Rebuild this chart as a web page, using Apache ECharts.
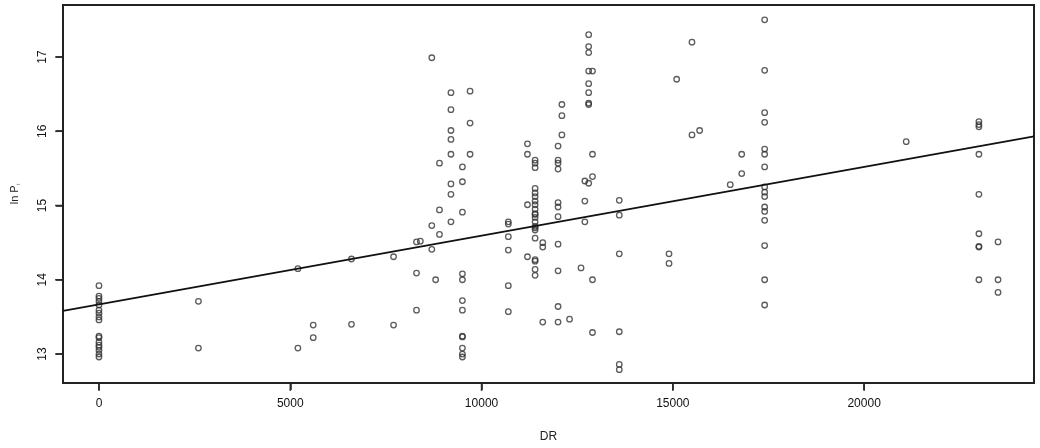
<!DOCTYPE html>
<html>
<head>
<meta charset="utf-8">
<script src="https://cdn.jsdelivr.net/npm/echarts@6/dist/echarts.min.js"></script>
<style>
html,body{margin:0;padding:0;background:#fff;}
#c{width:1040px;height:448px;}
</style>
</head>
<body>
<div id="c"></div>
<script>
// Observed points: DR values (x) and ln P values (y), grouped by column
const drValues = [
  0,0,0,0,0,0,0,0,0,0,0,0,0,0,0,0,0,
  2600,2600,
  5200,5200,
  5600,5600,
  6600,6600,
  7700,7700,
  8300,8300,8300,8400,
  8700,8700,8700,8800,
  8900,8900,8900,
  9200,9200,9200,9200,9200,9200,9200,9200,
  9500,9500,9500,9500,9500,9500,9500,9500,9500,9500,9500,9500,
  9700,9700,9700,
  10700,10700,10700,10700,10700,10700,
  11200,11200,11200,11200,
  11400,11400,11400,11400,11400,11400,11400,11400,11400,11400,11400,11400,11400,11400,11400,11400,11400,11400,11400,11400,11400,
  11600,11600,11600,
  12000,12000,12000,12000,12000,12000,12000,12000,12000,12000,12000,
  12100,12100,12100,
  12300,12600,
  12700,12700,12700,
  12800,12800,12800,12800,12800,12800,12800,12800,12800,
  12900,12900,12900,12900,12900,
  13600,13600,13600,13600,13600,13600,
  14900,14900,
  15100,
  15500,15500,
  15700,
  16500,
  16800,16800,
  17400,17400,17400,17400,17400,17400,17400,17400,17400,17400,17400,17400,17400,17400,17400,17400,
  21100,
  23000,23000,23000,23000,23000,23000,23000,23000,23000,
  23500,23500,23500
];
const lnPValues = [
  13.92,13.78,13.75,13.71,13.66,13.59,13.55,13.50,13.46,13.24,13.22,13.16,13.12,13.09,13.05,13.00,12.96,
  13.71,13.08,
  14.15,13.08,
  13.39,13.22,
  14.28,13.40,
  14.31,13.39,
  14.51,14.09,13.59,14.52,
  16.99,14.73,14.41,14.00,
  15.57,14.94,14.61,
  16.52,16.29,16.01,15.89,15.69,15.29,15.15,14.78,
  15.52,15.32,14.91,14.08,14.00,13.72,13.59,13.24,13.23,13.08,13.00,12.96,
  16.54,16.11,15.69,
  14.78,14.75,14.58,14.40,13.92,13.57,
  15.83,15.69,15.01,14.31,
  15.61,15.57,15.51,15.23,15.17,15.12,15.06,15.01,14.95,14.89,14.88,14.84,14.78,14.72,14.70,14.67,14.56,14.27,14.25,14.14,14.06,
  14.50,14.44,13.43,
  15.80,15.61,15.57,15.49,15.04,14.98,14.85,14.48,14.12,13.64,13.43,
  16.36,16.21,15.95,
  13.47,14.16,
  15.33,15.06,14.78,
  17.30,17.14,17.06,16.81,16.64,16.52,16.38,16.36,15.30,
  16.81,15.69,15.39,14.00,13.29,
  15.07,14.87,14.35,13.30,12.86,12.79,
  14.35,14.22,
  16.70,
  17.20,15.95,
  16.01,
  15.28,
  15.69,15.43,
  17.50,16.82,16.25,16.12,15.76,15.69,15.52,15.25,15.18,15.12,14.98,14.92,14.80,14.46,14.00,13.66,
  15.86,
  16.13,16.09,16.06,15.69,15.15,14.62,14.45,14.44,14.00,
  14.51,14.00,13.83
];
// Fitted regression line endpoints
const fitX = [-940, 24440];
const fitY = [13.58, 15.93];
// Tick labels
const xTicks = [0, 5000, 10000, 15000, 20000];
const yTicks = [13, 14, 15, 16, 17];
const xMin = -940, xMax = 24440, yMin = 12.61, yMax = 17.70;

const points = drValues.map((x, i) => [x, lnPValues[i]]);
const fitLine = fitX.map((x, i) => [x, fitY[i]]);

const chart = echarts.init(document.getElementById('c'));
const font = 'Liberation Sans, Arial, sans-serif';
chart.setOption({
  animation: false,
  backgroundColor: '#ffffff',
  grid: {
    left: 63, right: 6, top: 5, bottom: 65,
    show: true, borderColor: '#222', borderWidth: 2
  },
  xAxis: {
    type: 'value', min: xMin, max: xMax,
    name: 'DR', nameLocation: 'middle', nameGap: 48,
    nameTextStyle: {color: '#222', fontSize: 12, fontFamily: font},
    axisLine: {show: true, onZero: false, lineStyle: {color: '#222', width: 2}},
    axisTick: {show: true, length: 7, customValues: xTicks, lineStyle: {color: '#222', width: 1.5}},
    axisLabel: {customValues: xTicks, color: '#111', fontSize: 12, fontFamily: font, margin: 15,
      formatter: v => String(v)},
    splitLine: {show: false}
  },
  yAxis: {
    type: 'value', min: yMin, max: yMax,
    name: '{a|ln P}{b|t}', nameLocation: 'middle', nameGap: 42, nameRotate: 90,
    nameTextStyle: {
      color: '#222', fontFamily: font,
      rich: {
        a: {fontSize: 11, color: '#222', fontFamily: font},
        b: {fontSize: 6, color: '#777', fontFamily: font, verticalAlign: 'bottom', padding: [6, 0, 0, 0]}
      }
    },
    axisLine: {show: true, onZero: false, lineStyle: {color: '#222', width: 2}},
    axisTick: {show: true, length: 7, customValues: yTicks, lineStyle: {color: '#222', width: 1.5}},
    axisLabel: {customValues: yTicks, rotate: 90, color: '#111', fontSize: 12, fontFamily: font, margin: 14,
      formatter: v => String(v)},
    splitLine: {show: false}
  },
  series: [
    {
      type: 'scatter',
      data: points,
      symbol: 'circle',
      symbolSize: 5.5,
      itemStyle: {color: 'rgba(255,255,255,0)', borderColor: '#333', borderWidth: 1.3}
    },
    {
      type: 'line',
      data: fitLine,
      symbol: 'none',
      lineStyle: {color: '#111', width: 1.8},
      clip: true
    },
    {
      // outward tick marks on the x axis
      type: 'scatter',
      data: xTicks.map(v => [v, yMin]),
      symbol: 'rect',
      symbolSize: [1.6, 7],
      symbolOffset: [0, 4.5],
      clip: false,
      itemStyle: {color: '#222'}
    },
    {
      // outward tick marks on the y axis
      type: 'scatter',
      data: yTicks.map(v => [xMin, v]),
      symbol: 'rect',
      symbolSize: [7, 1.6],
      symbolOffset: [-4.5, 0],
      clip: false,
      itemStyle: {color: '#222'}
    }
  ]
});
</script>
</body>
</html>
